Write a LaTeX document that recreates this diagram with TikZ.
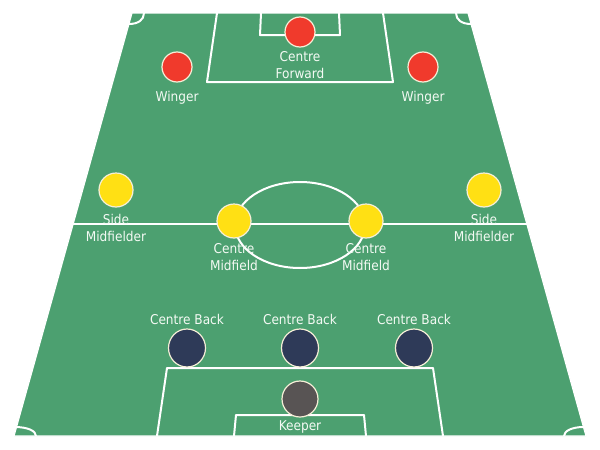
\documentclass[tikz,border=0pt]{standalone}
\usepackage{fontspec}
\setmainfont{DejaVu Sans Condensed}
\definecolor{pitch}{RGB}{76,160,112}
\definecolor{pred}{RGB}{240,58,44}
\definecolor{pyellow}{RGB}{255,224,20}
\definecolor{pnavy}{RGB}{46,58,88}
\definecolor{pgrey}{RGB}{88,84,84}
\definecolor{rim}{RGB}{245,238,215}
\definecolor{lbl}{RGB}{244,250,244}
\tikzset{
  x=1pt,y=-1pt,
  pline/.style={white,line width=2pt,line join=round},
  player/.style={circle,draw=rim,line width=1.2pt,inner sep=0pt},
  fwd/.style={player,fill=pred,minimum size=30pt},
  mid/.style={player,fill=pyellow,minimum size=34pt},
  back/.style={ellipse,draw=rim,line width=1.2pt,inner sep=0pt,fill=pnavy,minimum width=37pt,minimum height=38pt},
  gk/.style={player,fill=pgrey,minimum size=36pt},
  lab/.style={text=lbl,font=\fontsize{13.5}{16.5}\selectfont,align=center,inner sep=0pt}
}
\usetikzlibrary{shapes.geometric}
\begin{document}
\begin{tikzpicture}
\useasboundingbox (0,0) rectangle (600,450);
% pitch
\fill[pitch] (14,436) -- (132,13) -- (468,13) -- (586,436) -- cycle;
\draw[white,line width=1.2pt,line join=round] (14,436) -- (132,13) -- (468,13) -- (586,436) -- cycle;
% corner arcs
\draw[pline] (14.5,427) .. controls (28,427) and (36,431) .. (36,436);
\draw[pline] (583.5,427) .. controls (572,427) and (564,431) .. (564,436);
\draw[pline] (144,13) .. controls (144,20) and (138,24) .. (129,24);
\draw[pline] (456,13) .. controls (456,20) and (462,24) .. (471,24);
% top boxes
\draw[pline] (217,13) -- (207,82) -- (393,82) -- (383,13);
\draw[pline] (261,13) -- (260,35) -- (340,35) -- (339,13);
% bottom boxes
\draw[pline] (157,436) -- (167,368) -- (433,368) -- (443,436);
\draw[pline] (234,436) -- (236,415) -- (364,415) -- (366,436);
% halfway line and centre circle
\draw[pline] (73,224) -- (527,224);
\draw[pline] (300,225) ellipse [x radius=65,y radius=43];
% forwards
\node[fwd] (cf) at (300,32) {};
\node[fwd] (lw) at (177,67) {};
\node[fwd] (rw) at (423,67) {};
\node[lab] (cfl) at (300,65) {Centre\\Forward};
\node[lab] (lwl) at (177,98) {Winger};
\node[lab] (rwl) at (423,98) {Winger};
% midfield
\node[mid] (lsm) at (116,190) {};
\node[mid] (rsm) at (484,190) {};
\node[mid] (lcm) at (234,221) {};
\node[mid] (rcm) at (366,221) {};
\node[lab] (lsml) at (116,228) {Side\\Midfielder};
\node[lab] (rsml) at (484,228) {Side\\Midfielder};
\node[lab] (lcml) at (234,257) {Centre\\Midfield};
\node[lab] (rcml) at (366,257) {Centre\\Midfield};
% backs
\node[back] (lcb) at (187,348) {};
\node[back] (ccb) at (300,348) {};
\node[back] (rcb) at (414,348) {};
\node[lab] (lcbl) at (187,319) {Centre Back};
\node[lab] (ccbl) at (300,319) {Centre Back};
\node[lab] (rcbl) at (414,319) {Centre Back};
% keeper
\node[gk] (gk) at (300,399) {};
\node[lab] (gkl) at (300,427) {Keeper};
\end{tikzpicture}
\end{document}
